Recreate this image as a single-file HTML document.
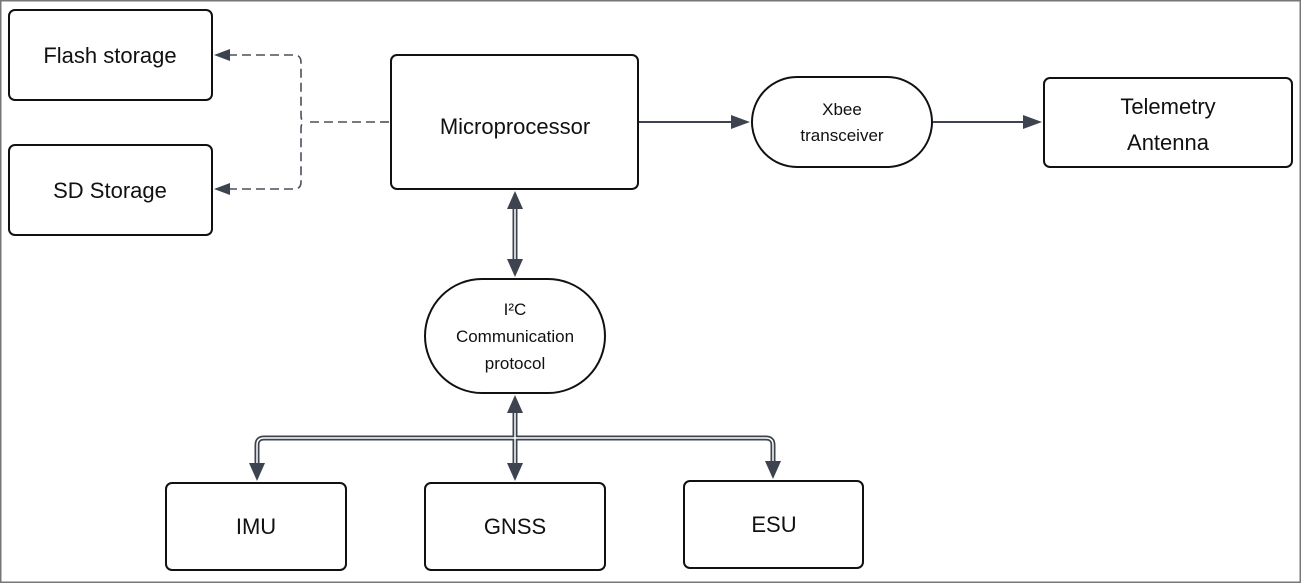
<!DOCTYPE html>
<html><head><meta charset="utf-8"><style>
html,body{margin:0;padding:0;background:#fff;width:1303px;height:584px;overflow:hidden}
svg{display:block}
text{font-family:"Liberation Sans",sans-serif;fill:#111;text-anchor:middle}
</style></head><body>
<svg width="1303" height="584" viewBox="0 0 1303 584">
<rect x="0.75" y="0.75" width="1299.5" height="581.5" fill="#fff" stroke="#777" stroke-width="1.5"/>
<g fill="#fff" stroke="#111" stroke-width="2">
<rect x="9" y="10" width="203" height="90" rx="6"/>
<rect x="9" y="145" width="203" height="90" rx="6"/>
<rect x="391" y="55" width="247" height="134" rx="6"/>
<rect x="752" y="77" width="180" height="90" rx="45"/>
<rect x="1044" y="78" width="248" height="89" rx="6"/>
<rect x="425" y="279" width="180" height="114" rx="57"/>
<rect x="166" y="483" width="180" height="87" rx="6"/>
<rect x="425" y="483" width="180" height="87" rx="6"/>
<rect x="684" y="481" width="179" height="87" rx="6"/>
</g>
<g font-size="22">
<text x="110" y="63">Flash storage</text>
<text x="110" y="198">SD Storage</text>
<text x="515" y="134">Microprocessor</text>
<text x="1168" y="114">Telemetry</text>
<text x="1168" y="150">Antenna</text>
<text x="256" y="534">IMU</text>
<text x="515" y="534">GNSS</text>
<text x="774" y="532">ESU</text>
</g>
<g font-size="17">
<text x="842" y="115">Xbee</text>
<text x="842" y="141">transceiver</text>
<text x="515" y="315">I²C</text>
<text x="515" y="342">Communication</text>
<text x="515" y="369">protocol</text>
</g>
<g fill="none" stroke="#4a505a" stroke-width="1.6" stroke-dasharray="9,5">
<path d="M389 122 H305"/>
<path d="M228 55 H294 q7 0 7 7 V115 q0 7 4 7"/>
<path d="M228 189 H294 q7 0 7 -7 V129 q0 -7 4 -7"/>
</g>
<g fill="#3d4450">
<polygon points="214,55 230,49 230,61"/>
<polygon points="214,189 230,183 230,195"/>
</g>
<g stroke="#3d4450" stroke-width="2">
<line x1="639" y1="122" x2="735" y2="122"/>
<line x1="933" y1="122" x2="1027" y2="122"/>
</g>
<g fill="#3d4450">
<polygon points="750,122 731,115 731,129"/>
<polygon points="1042,122 1023,115 1023,129"/>
</g>
<g fill="none" stroke="#3d4450" stroke-width="5">
<path d="M515 205 V263"/>
<path d="M515 408 V467"/>
<path d="M515 438 H264 q-7 0 -7 7 V467"/>
<path d="M515 438 H766 q7 0 7 7 V465"/>
</g>
<g fill="none" stroke="#fff" stroke-width="1.5">
<path d="M515 205 V263"/>
<path d="M515 408 V467"/>
<path d="M515 438 H264 q-7 0 -7 7 V467"/>
<path d="M515 438 H766 q7 0 7 7 V465"/>
</g>
<g fill="#3d4450">
<polygon points="515,191 507,209 523,209"/>
<polygon points="515,277 507,259 523,259"/>
<polygon points="515,395 507,413 523,413"/>
<polygon points="515,481 507,463 523,463"/>
<polygon points="257,481 249,463 265,463"/>
<polygon points="773,479 765,461 781,461"/>
</g>
</svg>
</body></html>
